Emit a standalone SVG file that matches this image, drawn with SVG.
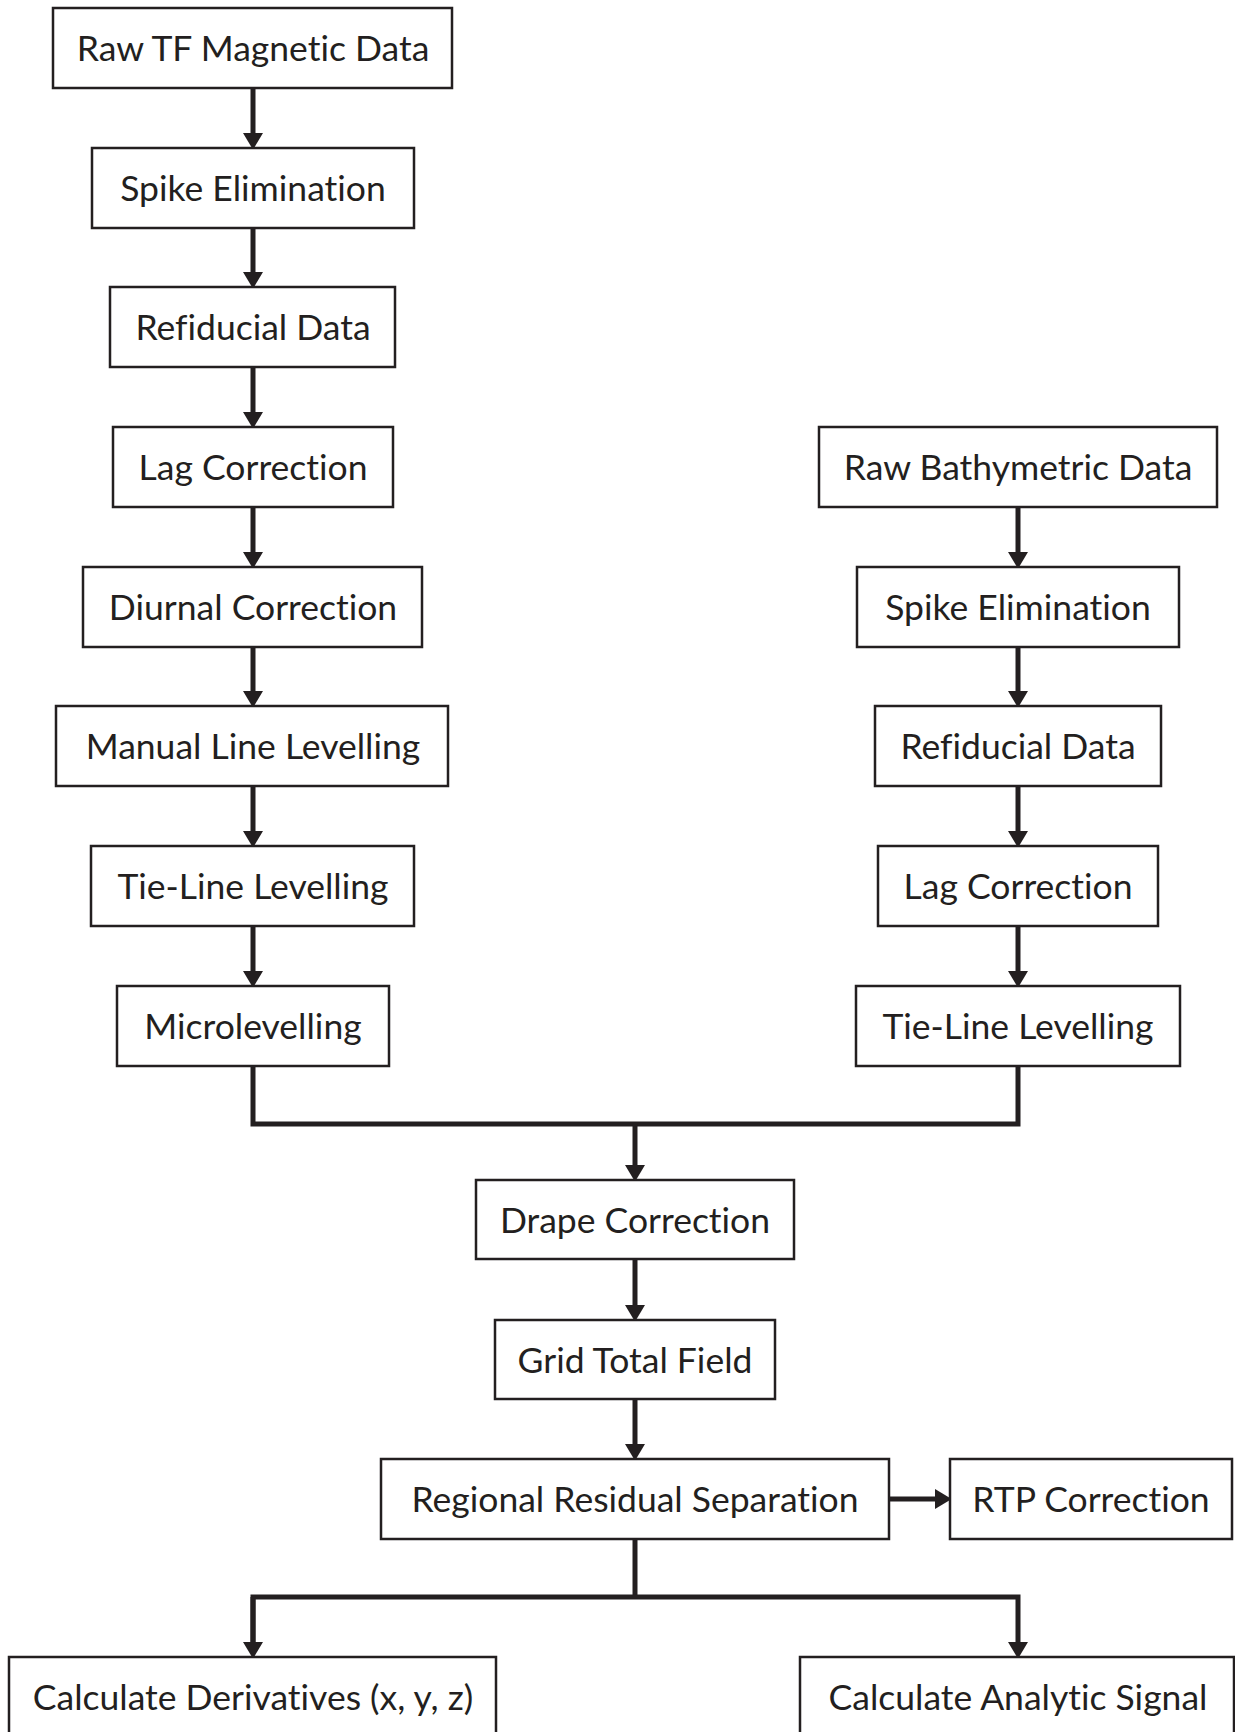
<svg xmlns="http://www.w3.org/2000/svg" width="1235" height="1732" viewBox="0 0 1235 1732">
<style>
  .box rect { fill: #ffffff; stroke: #231f20; stroke-width: 2.5; }
  .box text { font-family: Lato, "Liberation Sans", sans-serif; font-size: 35.5px; fill: #231f20; text-anchor: middle; font-variant-ligatures: none; }
  .conn path { fill: none; stroke: #231f20; stroke-width: 5; }
</style>
<defs>
  <marker id="ah" markerUnits="userSpaceOnUse" markerWidth="20" markerHeight="20" viewBox="0 -9 15 18" refX="0" refY="0" orient="auto">
    <path d="M0,-9 L15,0 L0,9 Z" fill="#231f20"/>
  </marker>
</defs>
<rect width="1235" height="1732" fill="#ffffff"/>
<g id="connectors" class="conn">
  <path d="M253,88 V133" marker-end="url(#ah)"/>
  <path d="M253,228 V272" marker-end="url(#ah)"/>
  <path d="M253,367 V412" marker-end="url(#ah)"/>
  <path d="M253,507 V552" marker-end="url(#ah)"/>
  <path d="M253,647 V691" marker-end="url(#ah)"/>
  <path d="M253,786 V831" marker-end="url(#ah)"/>
  <path d="M253,926 V971" marker-end="url(#ah)"/>
  <path d="M1018,507 V552" marker-end="url(#ah)"/>
  <path d="M1018,647 V691" marker-end="url(#ah)"/>
  <path d="M1018,786 V831" marker-end="url(#ah)"/>
  <path d="M1018,926 V971" marker-end="url(#ah)"/>
  <path d="M253,1066 V1124 H1018 V1066"/>
  <path d="M635,1124 V1165" marker-end="url(#ah)"/>
  <path d="M635,1259 V1305" marker-end="url(#ah)"/>
  <path d="M635,1399 V1444" marker-end="url(#ah)"/>
  <path d="M889,1499 H935" marker-end="url(#ah)"/>
  <path d="M635,1539 V1597"/>
  <path d="M253,1642 V1597 H1018 V1642" marker-end="url(#ah)"/>
  <path d="M253,1597 V1642" marker-end="url(#ah)"/>
</g>
<g id="n1" class="box"><rect x="53" y="8" width="399" height="80"/><text x="253" y="61">Raw TF Magnetic Data</text></g>
<g id="n2" class="box"><rect x="92" y="148" width="322" height="80"/><text x="253" y="201">Spike Elimination</text></g>
<g id="n3" class="box"><rect x="110" y="287" width="285" height="80"/><text x="253" y="340">Refiducial Data</text></g>
<g id="n4" class="box"><rect x="113" y="427" width="280" height="80"/><text x="253" y="480">Lag Correction</text></g>
<g id="n5" class="box"><rect x="83" y="567" width="339" height="80"/><text x="253" y="620">Diurnal Correction</text></g>
<g id="n6" class="box"><rect x="56" y="706" width="392" height="80"/><text x="253" y="759">Manual Line Levelling</text></g>
<g id="n7" class="box"><rect x="91" y="846" width="323" height="80"/><text x="253" y="899">Tie-Line Levelling</text></g>
<g id="n8" class="box"><rect x="117" y="986" width="272" height="80"/><text x="253" y="1039">Microlevelling</text></g>
<g id="r1" class="box"><rect x="819" y="427" width="398" height="80"/><text x="1018" y="480">Raw Bathymetric Data</text></g>
<g id="r2" class="box"><rect x="857" y="567" width="322" height="80"/><text x="1018" y="620">Spike Elimination</text></g>
<g id="r3" class="box"><rect x="875" y="706" width="286" height="80"/><text x="1018" y="759">Refiducial Data</text></g>
<g id="r4" class="box"><rect x="878" y="846" width="280" height="80"/><text x="1018" y="899">Lag Correction</text></g>
<g id="r5" class="box"><rect x="856" y="986" width="324" height="80"/><text x="1018" y="1039">Tie-Line Levelling</text></g>
<g id="drape" class="box"><rect x="476" y="1180" width="318" height="79"/><text x="635" y="1233">Drape Correction</text></g>
<g id="grid" class="box"><rect x="495" y="1320" width="280" height="79"/><text x="635" y="1373">Grid Total Field</text></g>
<g id="regional" class="box"><rect x="381" y="1459" width="508" height="80"/><text x="635" y="1512">Regional Residual Separation</text></g>
<g id="rtp" class="box"><rect x="950" y="1459" width="282" height="80"/><text x="1091" y="1512">RTP Correction</text></g>
<g id="deriv" class="box"><rect x="9" y="1657" width="487" height="82"/><text x="253" y="1710">Calculate Derivatives (x, y, z)</text></g>
<g id="analytic" class="box"><rect x="800" y="1657" width="434" height="82"/><text x="1018" y="1710">Calculate Analytic Signal</text></g>
</svg>
